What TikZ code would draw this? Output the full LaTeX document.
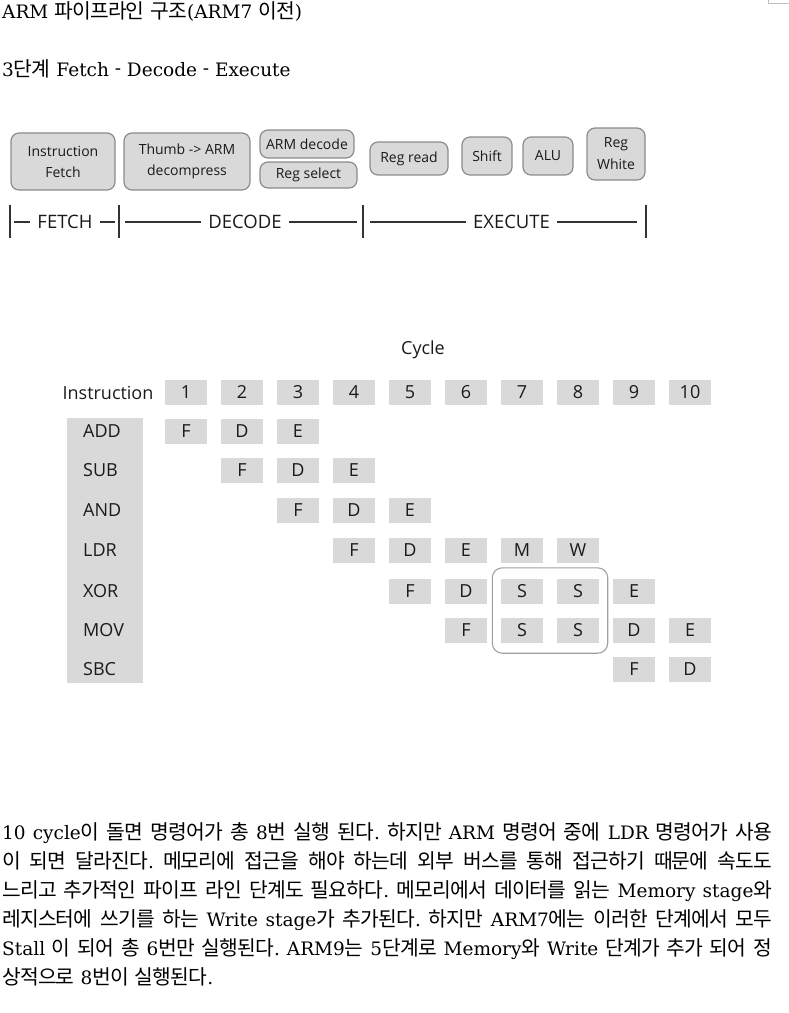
\documentclass[tikz,border=0pt]{standalone}
\usepackage{fontspec}
\usetikzlibrary{fit}
\setmainfont{DejaVu Serif}
\newfontfamily\krfont[Scale=1.1,LetterSpace=-4]{Noto Sans CJK KR}
\newfontfamily\diafont{Open Sans}
\XeTeXinterchartokenstate=1
\newXeTeXintercharclass\KRclass
\count255="AC00
\loop\XeTeXcharclass\count255=\KRclass\relax\ifnum\count255<"D7A3 \advance\count255 by 1 \repeat
\XeTeXinterchartoks 0 \KRclass = {\begingroup\krfont}
\XeTeXinterchartoks 4095 \KRclass = {\begingroup\krfont}
\XeTeXinterchartoks \KRclass 0 = {\endgroup}
\XeTeXinterchartoks \KRclass 4095 = {\endgroup}
\frenchspacing
\newcommand\rdash{\raisebox{1.5pt}{-}}
\definecolor{boxfill}{HTML}{D9D9D9}
\definecolor{boxline}{HTML}{8C8C8C}
\definecolor{cellfill}{HTML}{D9D9D9}
\definecolor{txt}{HTML}{1A1A1A}
\definecolor{stallline}{HTML}{A0A0A0}
\definecolor{phaseline}{HTML}{333333}
\begin{document}
\begin{tikzpicture}[x=1pt,y=-1pt,
  stagebox/.style={draw=boxline, fill=boxfill, rounded corners=8pt, line width=1.2pt,
    font=\diafont\fontsize{14}{21}\selectfont, align=center, inner sep=0pt, text=txt},
  phase/.style={font=\diafont\fontsize{18.5}{20}\selectfont, text=txt, inner xsep=7pt, inner ysep=0pt, text height=13.3pt, text depth=0pt},
  phaseln/.style={draw=phaseline, line width=1.4pt},
  cell/.style={fill=cellfill, minimum width=42pt, minimum height=25pt, inner sep=0pt,
    font=\diafont\fontsize{18}{20}\selectfont, text=txt, text height=12.8pt, text depth=0pt},
  lbl/.style={font=\diafont\fontsize{18}{20}\selectfont, text=txt, inner sep=0pt, text height=12.8pt, text depth=0pt},
  body/.style={anchor=west, inner sep=0pt, font=\fontsize{18.5}{22}\selectfont\frenchspacing, text=black, text height=13pt, text depth=1pt}
]
\useasboundingbox (0,0) rectangle (789,1013);
% tiny corner mark
\draw[gray!50, line width=0.8pt] (768,0) -- (768,3.3) -- (789,3.3);

% titles
\node[body] (title) at (2,12) {ARM 파이프라인 구조(ARM7 이전)};
\node[body] (sub) at (2,70) {3단계 Fetch \rdash{} Decode \rdash{} Execute};

% stage boxes
\node[stagebox, minimum width=104pt, minimum height=57pt] (ifetch) at (63,161.5) {Instruction\\Fetch};
\node[stagebox, minimum width=126pt, minimum height=57pt] (thumb) at (187,161.5) {Thumb -> ARM\\decompress};
\node[stagebox, minimum width=94pt, minimum height=28pt] (armdec) at (307,144) {ARM decode};
\node[stagebox, minimum width=97pt, minimum height=26pt] (regsel) at (308.5,175) {Reg select};
\node[stagebox, minimum width=78pt, minimum height=33pt] (regread) at (409,158.5) {Reg read};
\node[stagebox, minimum width=50pt, minimum height=38pt] (shift) at (487,156) {Shift};
\node[stagebox, minimum width=50pt, minimum height=38pt] (alu) at (548,156) {ALU};
\node[stagebox, minimum width=58pt, minimum height=52pt, font=\diafont\fontsize{14}{22}\selectfont] (regw) at (616,154) {Reg\\White};

% phase bracket
\coordinate (b1t) at (10,205); \coordinate (b1b) at (10,238);
\coordinate (b2t) at (119,205); \coordinate (b2b) at (119,238);
\coordinate (b3t) at (363,205); \coordinate (b3b) at (363,238);
\coordinate (b4t) at (646,205); \coordinate (b4b) at (646,238);
\draw[phaseln] (b1t) -- (b1b);
\draw[phaseln] (b2t) -- (b2b);
\draw[phaseln] (b3t) -- (b3b);
\draw[phaseln] (b4t) -- (b4b);
\node[phase] (fetch) at (65,222) {FETCH};
\node[phase] (decode) at (245,222) {DECODE};
\node[phase] (execute) at (511.5,222) {EXECUTE};
\coordinate (l1a) at (14,222); \coordinate (l1b) at (115,222);
\coordinate (l2a) at (125,222); \coordinate (l2b) at (357,222);
\coordinate (l3a) at (370,222); \coordinate (l3b) at (637,222);
\draw[phaseln] (l1a) -- (fetch.west);
\draw[phaseln] (fetch.east) -- (l1b);
\draw[phaseln] (l2a) -- (decode.west);
\draw[phaseln] (decode.east) -- (l2b);
\draw[phaseln] (l3a) -- (execute.west);
\draw[phaseln] (execute.east) -- (l3b);

% pipeline table
\node[lbl] (cycle) at (423,348) {Cycle};
\node[lbl] (instr) at (108,393) {Instruction};
\foreach \i in {1,...,10} {
  \node[cell] (h\i) at ({186+56*(\i-1)},392.5) {\i};
}
\node[fill=cellfill, minimum width=76pt, minimum height=265pt, inner sep=0pt, anchor=north west] (namecol) at (67,418) {};
\foreach \r/\n in {1/ADD,2/SUB,3/AND,4/LDR,5/XOR,6/MOV,7/SBC} {
  \pgfmathparse{{431,470.5,510,550.5,591,630,669}[\r-1]}
  \node[lbl, anchor=west] (lab\r) at (83,\pgfmathresult) {\n};
}
\foreach \r/\c/\t in {1/1/F,1/2/D,1/3/E, 2/2/F,2/3/D,2/4/E, 3/3/F,3/4/D,3/5/E,
  4/4/F,4/5/D,4/6/E,4/7/M,4/8/W, 5/5/F,5/6/D,5/7/S,5/8/S,5/9/E,
  6/6/F,6/7/S,6/8/S,6/9/D,6/10/E, 7/9/F,7/10/D} {
  \pgfmathparse{{431,470.5,510,550.5,591,630,669}[\r-1]}
  \node[cell] (c\r-\c) at ({186+56*(\c-1)},\pgfmathresult) {\t};
}
\node[fit=(c5-7)(c6-8), inner xsep=8.5pt, inner ysep=10.5pt, draw=stallline, line width=1.1pt, rounded corners=10pt] (stall) {};

% body text
\node[body] (p1) at (2,833) {\makebox[770pt][s]{10 cycle이 돌면 명령어가 총 8번 실행 된다. 하지만 ARM 명령어 중에 LDR 명령어가 사용}};
\node[body] (p2) at (2,862) {\makebox[770pt][s]{이 되면 달라진다. 메모리에 접근을 해야 하는데 외부 버스를 통해 접근하기 때문에 속도도}};
\node[body] (p3) at (2,891) {\makebox[770pt][s]{느리고 추가적인 파이프 라인 단계도 필요하다. 메모리에서 데이터를 읽는 Memory stage와}};
\node[body] (p4) at (2,920) {\makebox[770pt][s]{레지스터에 쓰기를 하는 Write stage가 추가된다. 하지만 ARM7에는 이러한 단계에서 모두}};
\node[body] (p5) at (2,949) {\makebox[770pt][s]{Stall 이 되어 총 6번만 실행된다. ARM9는 5단계로 Memory와 Write 단계가 추가 되어 정}};
\node[body] (p6) at (2,978) {상적으로 8번이 실행된다.};
\end{tikzpicture}
\end{document}
